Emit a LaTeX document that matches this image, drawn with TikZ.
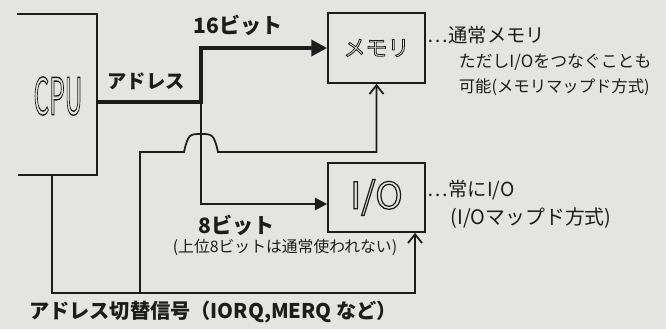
\documentclass[tikz,border=0pt]{standalone}
\usepackage{fontspec}
\setmainfont{Noto Sans CJK JP}
\usetikzlibrary{arrows.meta, positioning, calc}
\definecolor{paper}{RGB}{228, 228, 224}
\definecolor{ink}{RGB}{28, 28, 28}
% outlined letters (text render mode 1)
\newcommand{\hollow}[2][0.6pt]{\pgfsetlinewidth{#1}\special{pdf:literal direct 1 Tr}#2\special{pdf:literal direct 0 Tr}}

\begin{document}
\begin{tikzpicture}[x=0.02cm, y=-0.02cm, line width=1pt,
    box/.style={draw=ink, line width=1pt, minimum width=1.94cm, inner sep=0pt, text=ink},
    bus/.style={draw=ink, line width=2.8pt, -{Triangle[length=9pt,width=9pt]}},
    narrowbus/.style={draw=ink, line width=1.3pt, -{Triangle[length=7pt,width=7pt]}},
    sig/.style={draw=ink, line width=1pt, -{Straight Barb[length=5pt,width=8pt]}},
    lbl/.style={font=\fontsize{12}{14}\selectfont\bfseries, text=ink, inner sep=0pt},
    note/.style={font=\fontsize{9.3}{11}\selectfont, text=ink, inner sep=0pt, anchor=west}]
                \fill[paper] (0,0) rectangle (666,329);
                \useasboundingbox (0,0) rectangle (666,329);
                % CPU (left side runs off the page)
                \node[text=ink, inner sep=0pt, font=\fontsize{29}{29}\selectfont] (cpu) at (58,96)
                      {\scalebox{0.48}[1]{\hollow[0.8pt]{CPU}}};
                \coordinate (cpuNE) at (97,14);
                \coordinate (cpuSE) at (97,175);
                \draw[ink] (cpuNE) ++(-80,0) -- (cpuNE) -- (cpuSE) -- ++(-79,0);
                % Memory and I/O
                \node[box, minimum height=1.4cm, font=\fontsize{12.5}{12}\selectfont] (mem) at (376.5,48) {\hollow[0.45pt]{メモリ}};
                \node[box, minimum height=1.38cm, font=\fontsize{21}{21}\selectfont] (io) at (376.5,197.5) {\hollow[0.7pt]{I/O}};

                % Address bus
                \coordinate (split) at (201,102);
                \coordinate (hop) at (split |- 0,152);
                \draw[bus] (cpuNE |- split) -- (split) |- (mem.west);
                \draw[narrowbus] (split) |- ($(io.west)+(0,6.5)$);

                % Address switch signal
                \coordinate (sigL) at (52,293);
                \coordinate (sigM) at (140,293);
                \coordinate (sigR) at (415,293);
                \draw[sig] (cpuSE -| sigL) -- (sigL) -- (sigR) -- (sigR |- io.south);
                \draw[sig] (sigM) -- (sigM |- hop) -- ($(hop)+(-17,0)$)
                    .. controls ($(hop)+(-13,-18)$) and ($(hop)+(-11,-18)$) .. ($(hop)+(0,-18)$)
                    .. controls ($(hop)+(11,-18)$) and ($(hop)+(13,-18)$) .. ($(hop)+(17,0)$)
                    -- (mem.south |- hop) -- (mem.south);

                \node[lbl, font=\fontsize{11}{12}\selectfont\bfseries] (addrlbl) at (146,81) {アドレス};
                \node[lbl] (bits16) at (238,25) {16ビット};
                \node[lbl] (bits8) at (237,225) {8ビット};
                \node[note, anchor=center, font=\fontsize{9}{11}\selectfont] (bits8note) at (285,247) {(上位8ビットは通常使われない)};

                % Notes
                \node[note, font=\fontsize{11}{13}\selectfont] (memnote) at (427,35) {…通常メモリ};
                \node[note, font=\fontsize{9.6}{11}\selectfont] (memnote2) at (458,62) {ただしI/Oをつなぐことも};
                \node[note] (memnote3) at (458,87) {可能(メモリマップド方式)};
                \node[note, font=\fontsize{11}{13}\selectfont] (ionote) at (427,190) {…常にI/O};
                \node[note, font=\fontsize{11.3}{13}\selectfont] (ionote2) at (450,218) {(I/Oマップド方式)};

                \node[lbl, font=\fontsize{11.5}{14}\selectfont\bfseries] (swlbl) at (213,312) {アドレス切替信号（IORQ,MERQ など）};
            \end{tikzpicture}
\end{document}
